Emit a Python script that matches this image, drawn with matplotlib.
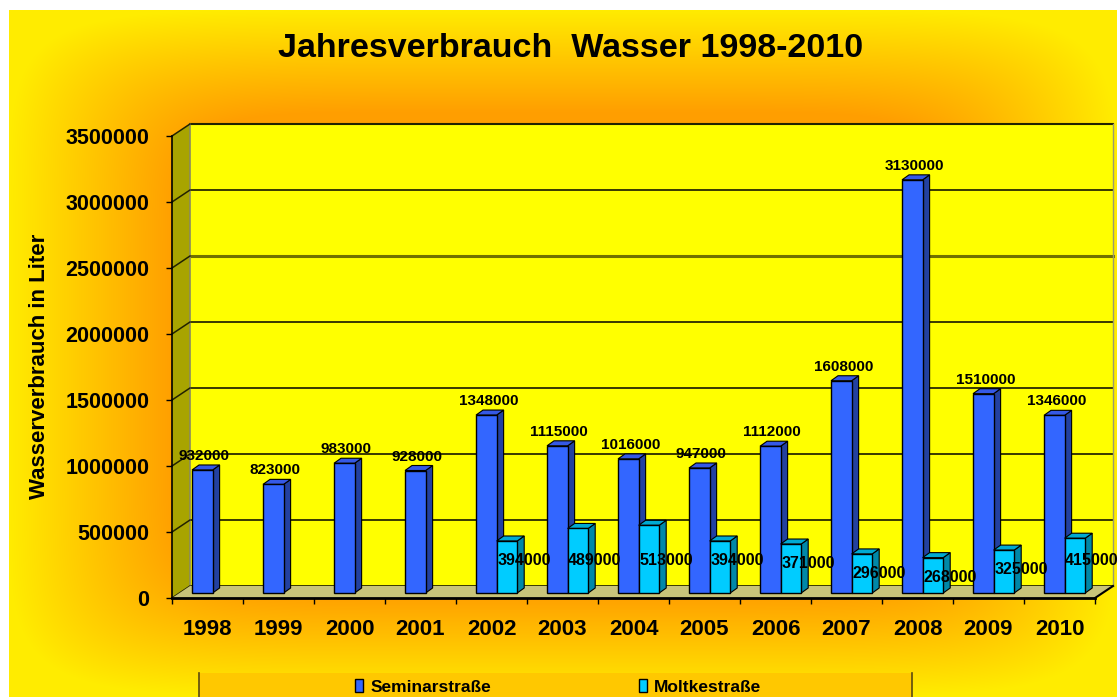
import numpy as np
import matplotlib
matplotlib.use("Agg")
import matplotlib.pyplot as plt
from matplotlib.patches import Polygon, Rectangle, Patch
from matplotlib.lines import Line2D

plt.rcParams['font.family'] = ['Liberation Sans', 'DejaVu Sans']
plt.rcParams['font.weight'] = 'bold'

# ---------------- data ----------------
years = ['1998', '1999', '2000', '2001', '2002', '2003', '2004',
         '2005', '2006', '2007', '2008', '2009', '2010']
seminar = [932000, 823000, 983000, 928000, 1348000, 1115000, 1016000,
           947000, 1112000, 1608000, 3130000, 1510000, 1346000]
moltke = [None, None, None, None, 394000, 489000, 513000,
          394000, 371000, 296000, 268000, 325000, 415000]
series_names = ['Seminarstraße', 'Moltkestraße']
yticks = [0, 500000, 1000000, 1500000, 2000000, 2500000, 3000000, 3500000]
title = 'Jahresverbrauch  Wasser 1998-2010'
ylabel = 'Wasserverbrauch in Liter'

# ---------------- figure ----------------
W, H = 1117, 697
fig = plt.figure(figsize=(W / 100, H / 100), dpi=100, facecolor='white')

# background gradient (orange centre -> yellow edges)
bg = fig.add_axes([0, 0, 1, 1], zorder=-10)
bg.set_axis_off()
gx0, gx1, gy0, gy1 = 9, 1117, 10, 696
xs = np.arange(W) + 0.5
ys = np.arange(H) + 0.5
X, Y = np.meshgrid(xs, ys)
cx, cy = (gx0 + gx1) / 2, (gy0 + gy1) / 2
hw, hh = (gx1 - gx0) / 2, (gy1 - gy0) / 2
p = 8.0
t = ((np.abs(X - cx) / hw) ** p + (np.abs(Y - cy) / hh) ** p) ** (1 / p)
s = np.clip((t - 0.70) / (1.0 - 0.70), 0, 1)
orange = np.array([255, 158, 0]) / 255
yellow = np.array([255, 236, 0]) / 255
img = orange[None, None, :] * (1 - s[..., None]) + yellow[None, None, :] * s[..., None]
inside = (X >= gx0) & (Y >= gy0)
img[~inside] = 1.0
bg.imshow(img, extent=[0, W, H, 0], aspect='auto', interpolation='bilinear')
bg.set_xlim(0, W)
bg.set_ylim(H, 0)

# legend box (pixel coordinates on bg axes)
bg.add_patch(Rectangle((199, 673), 912 - 199, 40, facecolor='#FFC800',
                       edgecolor='none', zorder=2))
bg.plot([199, 199], [673, 697], color='#5A4A10', lw=1.2, zorder=3)
bg.plot([912, 912], [673, 697], color='#5A4A10', lw=1.2, zorder=3)

# ---------------- main axes (front plane) ----------------
L, R, B, T = 172, 1095, 598, 136
ax = fig.add_axes([L / W, (H - B) / H, (R - L) / W, (B - T) / H])
ax.set_facecolor('none')
n = len(years)
ymax = yticks[-1]
ax.set_xlim(0, n)
ax.set_ylim(0, ymax)

sx = (R - L) / n          # px per category
sy = (B - T) / ymax       # px per litre


def dxp(px):
    return px / sx


def dyp(px):
    return px / sy


OX, OY = 18, 12   # depth offset of the back wall (pixels)
ox, oy = dxp(OX), dyp(OY)

# back wall
ax.add_patch(Polygon([(ox, oy), (n + ox, oy), (n + ox, ymax + oy), (ox, ymax + oy)],
                     closed=True, facecolor='#FFFF00', edgecolor='none',
                     zorder=0.5, clip_on=False))
ax.add_line(Line2D([ox, n + ox], [ymax + oy, ymax + oy], color='#222200', lw=1.5,
                   zorder=0.7, clip_on=False))
ax.add_line(Line2D([n + ox, n + ox], [oy, ymax + oy], color='#9A9A70', lw=1.0,
                   zorder=0.7, clip_on=False))
for v in yticks[:-1]:
    if v == 2500000:
        ax.add_line(Line2D([ox, n + ox], [v + oy, v + oy], color='#707000', lw=2.2,
                           zorder=0.6, clip_on=False))
    else:
        ax.add_line(Line2D([ox, n + ox], [v + oy, v + oy], color='#2A2A00', lw=1.3,
                           zorder=0.6, clip_on=False))

# left side wall
ax.add_patch(Polygon([(0, 0), (0, ymax), (ox, ymax + oy), (ox, oy)], closed=True,
                     facecolor='#A8A400', edgecolor='none', zorder=0.8, clip_on=False))
ax.add_line(Line2D([ox, ox], [oy, ymax + oy], color='#8A8A60', lw=1.2, zorder=0.85,
                   clip_on=False))
for v in yticks:
    ax.add_line(Line2D([0, ox], [v, v + oy], color='#222200', lw=1.1, zorder=0.9,
                       clip_on=False))

# floor
ax.add_patch(Polygon([(0, 0), (n, 0), (n + ox, oy), (ox, oy)], closed=True,
                     facecolor='#C8C47A', edgecolor='none', zorder=0.9, clip_on=False))
ax.add_line(Line2D([n, n + ox], [0, oy], color='black', lw=1.5, zorder=1,
                   clip_on=False))

# ---------------- bars ----------------
b0 = dyp(5)
bw = 0.29
off_blue = 0.282
off_cyan = off_blue + bw
DX, DY = dxp(7), dyp(5)

styles = [
    dict(front='#3366FF', side='#2341A0', top='#3559E6'),
    dict(front='#00CCFF', side='#0088A8', top='#00AAD2'),
]


def draw_series(values, offset, st, z):
    xs_ = [i + offset for i, v in enumerate(values) if v is not None]
    vs_ = [v for v in values if v is not None]
    ax.bar(xs_, vs_, width=bw, bottom=b0, align='edge', color=st['front'],
           edgecolor='black', linewidth=1.0, zorder=z, clip_on=False)
    for x0, v in zip(xs_, vs_):
        x1 = x0 + bw
        top = b0 + v
        ax.add_patch(Polygon([(x1, b0), (x1 + DX, b0 + DY), (x1 + DX, top + DY), (x1, top)],
                             closed=True, facecolor=st['side'], edgecolor='black',
                             linewidth=0.8, zorder=z - 0.1, clip_on=False))
        ax.add_patch(Polygon([(x0, top), (x1, top), (x1 + DX, top + DY), (x0 + DX, top + DY)],
                             closed=True, facecolor=st['top'], edgecolor='black',
                             linewidth=0.8, zorder=z - 0.1, clip_on=False))
    return xs_, vs_


bx, bv = draw_series(seminar, off_blue, styles[0], 2.0)
cx_, cv = draw_series(moltke, off_cyan, styles[1], 3.0)

# data labels
for x0, v in zip(bx, bv):
    ax.annotate(f'{v}', xy=(x0 + bw / 2, b0 + v), xytext=(2, 10),
                textcoords='offset pixels', ha='center', va='baseline',
                fontsize=11, fontweight='bold', zorder=6, annotation_clip=False)
for x0, v in zip(cx_, cv):
    ylab = min(b0 + v - dyp(24), b0 + dyp(28))
    ax.annotate(f'{v}', xy=(x0 + bw / 2, ylab), xytext=(17, 0),
                textcoords='offset pixels', ha='center', va='baseline',
                fontsize=11.5, fontweight='bold', zorder=6, annotation_clip=False)

# ---------------- axes decoration ----------------
for sp in ['top', 'right']:
    ax.spines[sp].set_visible(False)
ax.spines['left'].set_color('black')
ax.spines['left'].set_linewidth(1.2)
ax.spines['bottom'].set_color('black')
ax.spines['bottom'].set_linewidth(2.0)
ax.spines['left'].set_zorder(1.0)

ax.set_yticks(yticks)
ax.set_yticklabels([str(v) for v in yticks])
ax.tick_params(axis='y', direction='out', length=4.3, width=1.0, color='black',
               pad=12, labelsize=15.5)
for lab in ax.get_yticklabels():
    lab.set_fontweight('bold')

ax.set_xticks(range(n + 1))
ax.set_xticklabels([])
ax.tick_params(axis='x', direction='out', length=4.3, width=1.0, color='black')
for i, yr in enumerate(years):
    ax.text(i + 0.5, -37 / (B - T), yr, transform=ax.get_xaxis_transform(),
            ha='center', va='baseline', fontsize=16, fontweight='bold')

# titles
fig.text(571 / W, 1 - 57 / H, title, ha='center', va='baseline',
         fontsize=24.5, fontweight='bold')
fig.text(40 / W, 1 - 366 / H, ylabel, rotation=90, ha='center', va='center',
         fontsize=16, fontweight='bold')

# legend
handles = [Patch(facecolor=styles[0]['front'], edgecolor='black', linewidth=1.0),
           Patch(facecolor=styles[1]['front'], edgecolor='black', linewidth=1.0)]
leg = fig.legend(handles, series_names, loc='center',
                 bbox_to_anchor=(558 / W, 1 - 687 / H), ncol=2, frameon=False,
                 prop=dict(size=12.5, weight='bold'), handlelength=0.5,
                 handleheight=0.8, handletextpad=0.4, columnspacing=8.5,
                 borderpad=0, borderaxespad=0)

fig.savefig('out.png', dpi=100, facecolor='white')
